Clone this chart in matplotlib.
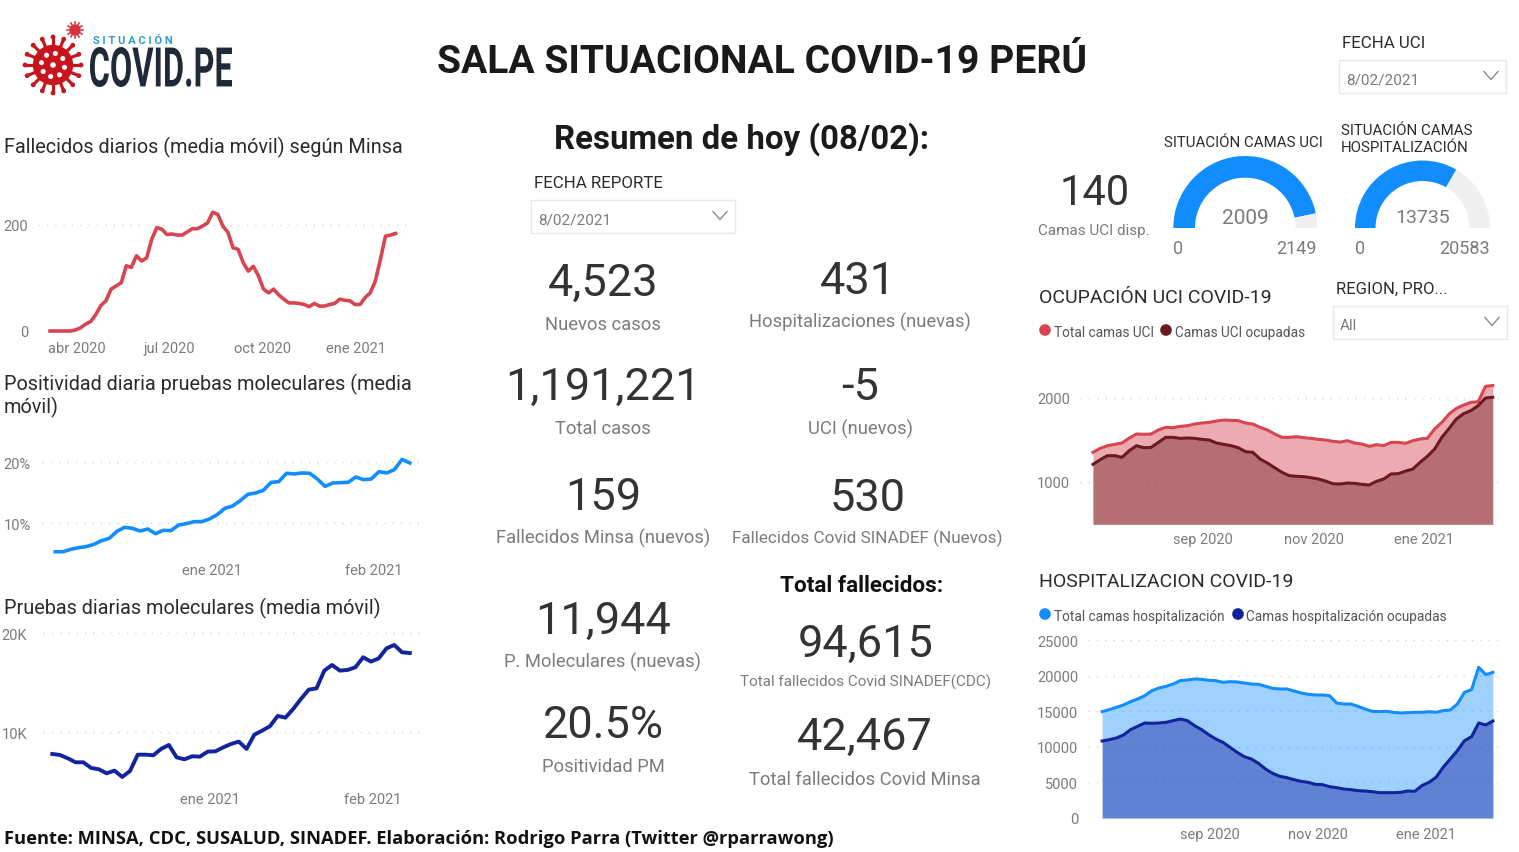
import numpy as np
import pandas as pd
import matplotlib
matplotlib.use("Agg")
import matplotlib.pyplot as plt
import matplotlib.dates as mdates
from matplotlib.patches import Circle, PathPatch, Rectangle
from matplotlib.textpath import TextPath
from matplotlib.font_manager import FontProperties
from matplotlib.transforms import Affine2D

W, H = 1519, 853
FONT = "Roboto"
plt.rcParams["font.family"] = [FONT, "DejaVu Sans"]

RED = "#D64550"
BLUE = "#118DFF"
NAVY = "#12239E"
MAROON = "#6B1A22"
GREY = "#7B7B7B"
DARK = "#2B2B2B"

# data
fallecidos = [0, 0, 0, 0, 0, 2, 6, 13, 18, 31, 48, 57, 79, 85, 91, 123, 120, 142, 132, 138,
              173, 195, 192, 182, 183, 181, 181, 187, 193, 193, 198, 204, 224, 220, 198, 186,
              157, 154, 129, 113, 122, 104, 79, 72, 79, 68, 60, 53, 53, 52, 50, 46, 52, 47,
              47, 50, 52, 60, 58, 57, 50, 50, 63, 72, 94, 135, 179, 181, 184]
positividad = [5.27, 5.27, 5.66, 5.93, 6.1, 6.48, 7.09, 7.47, 8.63, 9.29, 9.12, 8.68, 9.01,
               8.24, 8.79, 8.74, 9.67, 9.89, 10.22, 10.22, 10.66, 11.37, 12.42, 12.8, 13.68,
               14.73, 14.95, 15.38, 16.7, 16.81, 18.19, 18.08, 18.24, 18.19, 17.25, 16.04,
               16.59, 16.65, 16.7, 17.58, 17.14, 17.25, 18.46, 18.24, 18.79, 20.49, 19.89]
pruebas = [7810, 7710, 7370, 6970, 6970, 6400, 6260, 5860, 6130, 5490, 6090, 7740, 7740,
           7680, 8320, 8720, 7470, 7270, 7580, 7540, 8050, 8080, 8480, 8820, 9060, 8320,
           9760, 10170, 10610, 11650, 11480, 12360, 13370, 14310, 14440, 16230, 16800,
           16230, 16300, 16570, 17580, 17140, 17470, 18480, 18820, 18080, 18010]
uci_total = [1351, 1398, 1430, 1446, 1462, 1522, 1570, 1566, 1570, 1618, 1649, 1645, 1661,
             1669, 1689, 1701, 1709, 1725, 1737, 1733, 1729, 1701, 1689, 1649, 1618, 1570,
             1530, 1530, 1538, 1526, 1518, 1506, 1498, 1482, 1474, 1490, 1462, 1450, 1422,
             1442, 1430, 1470, 1470, 1458, 1490, 1510, 1518, 1629, 1709, 1809, 1876, 1916,
             1948, 1956, 2139, 2149]
uci_ocupadas = [1207, 1263, 1311, 1311, 1291, 1371, 1430, 1406, 1410, 1470, 1530, 1530, 1518,
                1522, 1518, 1506, 1498, 1462, 1446, 1430, 1406, 1359, 1351, 1271, 1223, 1167,
                1112, 1072, 1064, 1060, 1048, 1032, 1008, 976, 972, 984, 980, 968, 960, 1004,
                1032, 1092, 1096, 1127, 1151, 1231, 1303, 1390, 1530, 1637, 1749, 1813, 1849,
                1908, 2000, 2009]
hosp_total = [14961, 15243, 15571, 15899, 16368, 16743, 17212, 17916, 18291, 18526, 18854,
              19323, 19417, 19557, 19510, 19370, 19323, 19088, 19182, 19135, 18995, 18854,
              18807, 18526, 18244, 18150, 18150, 17869, 17588, 17400, 17306, 17306, 17212,
              16180, 16040, 16040, 15712, 15336, 15008, 14961, 15008, 14867, 14774, 14820,
              14867, 14867, 14961, 14867, 15102, 15196, 16040, 17681, 18057, 21199, 20167,
              20495]
hosp_ocupadas = [10834, 11022, 11256, 11678, 12429, 12898, 13367, 13320, 13367, 13460, 13695,
                 13929, 13695, 12991, 12429, 11725, 11115, 10646, 9943, 9239, 8630, 8301, 7692,
                 6894, 6285, 5863, 5675, 5394, 5159, 5018, 4737, 4690, 4409, 4268, 4080, 3987,
                 3846, 3799, 3705, 3564, 3564, 3564, 3611, 3799, 3752, 4549, 5018, 5722, 7129,
                 8301, 9474, 10881, 11444, 13367, 13085, 13648]

gauge_uci = (2009, 2149)
gauge_hosp = (13735, 20583)

dates_fallecidos = pd.date_range("2020-03-06", periods=len(fallecidos), freq="5D")
dates_recent = pd.date_range("2020-12-02", "2021-02-08", periods=len(positividad))
dates_camas = pd.date_range("2020-07-02", "2021-02-08", periods=len(uci_total))

month_ticks_long = ["2020-04-01", "2020-07-01", "2020-10-01", "2021-01-01"]
month_labels_long = ["abr 2020", "jul 2020", "oct 2020", "ene 2021"]
month_ticks_short = ["2021-01-01", "2021-02-01"]
month_labels_short = ["ene 2021", "feb 2021"]
month_ticks_camas = ["2020-09-01", "2020-11-01", "2021-01-01"]
month_labels_camas = ["sep 2020", "nov 2020", "ene 2021"]

kpi_date = "8/02/2021"
kpi_values = ["4,523", "431", "1,191,221", "-5", "159", "530", "11,944", "20.5%", "42,467"]
kpi_labels = ["Nuevos casos", "Hospitalizaciones (nuevas)", "Total casos", "UCI (nuevos)",
              "Fallecidos Minsa (nuevos)", "Fallecidos Covid SINADEF (Nuevos)",
              "P. Moleculares (nuevas)", "Positividad PM", "Total fallecidos Covid Minsa"]


def px_axes(fig, left, right, top, bottom):
    return fig.add_axes([left / W, 1 - bottom / H, (right - left) / W, (bottom - top) / H])


def chart(fig, box, x_ref, y_ref, ticks, tick_labels, yticks, ylabels, ypad=7, xpad=7):
    # box is left, right, top, bottom in pixels, the refs tie values to pixels
    left, right, top, bottom = box
    ax = px_axes(fig, left, right, top, bottom)
    ax.patch.set_alpha(0)
    (d0, p0), (d1, p1) = x_ref
    n0, n1 = mdates.date2num(pd.Timestamp(d0)), mdates.date2num(pd.Timestamp(d1))
    per_px = (n1 - n0) / (p1 - p0)
    ax.set_xlim(n0 + (left - p0) * per_px, n0 + (right - p0) * per_px)
    (v0, q0), (v1, q1) = y_ref
    per_py = (v1 - v0) / (q1 - q0)
    ax.set_ylim(v0 + (bottom - q0) * per_py, v0 + (top - q0) * per_py)
    ax.set_xticks([mdates.date2num(pd.Timestamp(t)) for t in ticks])
    ax.set_xticklabels(tick_labels)
    ax.set_yticks(yticks)
    ax.set_yticklabels(ylabels)
    ax.tick_params(length=0, labelsize=10.5, labelcolor=GREY)
    ax.tick_params(axis="y", pad=ypad)
    ax.tick_params(axis="x", pad=xpad)
    ax.grid(axis="y", color="#D5D5D5", linewidth=1, linestyle=(0, (1, 5)))
    ax.set_axisbelow(True)
    for spine in ax.spines.values():
        spine.set_visible(False)
    return ax


def gauge(fig, cx, cy, radius, inner, value, maximum):
    ax = px_axes(fig, cx - radius, cx + radius, cy - radius, cy + radius)
    ax.pie([value, maximum - value, maximum], startangle=180, counterclock=False,
           colors=[BLUE, "#F0F0F0", "none"], radius=1,
           wedgeprops={"width": 1 - inner / radius, "linewidth": 0})
    ax.set_xlim(-1, 1)
    ax.set_ylim(-1, 1)


def stretched_text(ax, text, x0, x1, y_top, y_bot, color, weight="bold"):
    path = TextPath((0, 0), text, size=10, prop=FontProperties(family=FONT, weight=weight))
    ext = path.get_extents()
    tr = (Affine2D().translate(-ext.x0, -ext.y0)
          .scale((x1 - x0) / ext.width, -(y_bot - y_top) / ext.height)
          .translate(x0, y_bot))
    ax.add_patch(PathPatch(path, transform=tr + ax.transData, facecolor=color, lw=0))


def virus(ax, cx, cy, r, color, spikes, blob_dots):
    ax.add_patch(Circle((cx, cy), r * 0.72, color=color, lw=0))
    angles = np.linspace(0, 2 * np.pi, spikes, endpoint=False)
    for a in angles:
        ax.plot([cx + r * 0.7 * np.cos(a), cx + r * np.cos(a)],
                [cy + r * 0.7 * np.sin(a), cy + r * np.sin(a)],
                color=color, lw=r * 0.06 + 0.6, solid_capstyle="round")
        ax.add_patch(Circle((cx + r * np.cos(a), cy + r * np.sin(a)), r * 0.085, color=color, lw=0))
    if blob_dots:
        for a in angles[::2]:
            ax.add_patch(Circle((cx + r * 0.42 * np.cos(a + 0.2), cy + r * 0.42 * np.sin(a + 0.2)),
                                r * 0.09, color="white", lw=0))
        ax.add_patch(Circle((cx, cy), r * 0.1, color="white", lw=0))


def slicer(ax, x0, y0, x1, y1, text):
    ax.add_patch(Rectangle((x0, y0), x1 - x0, y1 - y0, facecolor="white",
                           edgecolor="#E8E8E8", lw=1))
    ax.text(x0 + 7, (y0 + y1) / 2 + 2.5, text, fontsize=11, color=GREY, va="center")
    cy = (y0 + y1) / 2 - 1
    ax.plot([x1 - 22, x1 - 15, x1 - 8], [cy - 4, cy + 4, cy - 4], color="#8A8A8A", lw=1)


def label(ax, x, y, text, size=10.5, color=DARK, ha="left", weight="normal", family=None):
    # va=center sits high here, more so for the big text
    ax.text(x, y + 0.7 + size * 0.09, text, fontsize=size, color=color, ha=ha, va="center",
            fontweight=weight, family=family or [FONT, "DejaVu Sans"])


def main():
    fig = plt.figure(figsize=(W / 100, H / 100), dpi=100, facecolor="white")

    ax = chart(fig, (38, 407, 200, 332), (("2020-04-01", 76.5), ("2021-01-01", 356)),
               ((0, 332), (200, 226)), month_ticks_long, month_labels_long,
               [0, 200], ["0", "200"])
    ax.plot(dates_fallecidos, fallecidos, color=RED, lw=2.6, clip_on=False)

    ax = chart(fig, (42, 420, 445, 554), (("2021-01-01", 211.7), ("2021-02-01", 373.3)),
               ((10, 524), (20, 463.3)), month_ticks_short, month_labels_short,
               [10, 20], ["10%", "20%"], ypad=8)
    ax.plot(dates_recent, positividad, color=BLUE, lw=2.6, clip_on=False)

    ax = chart(fig, (43, 420, 625, 783), (("2021-01-01", 210), ("2021-02-01", 373)),
               ((10000, 733.3), (20000, 634.3)), month_ticks_short, month_labels_short,
               [10000, 20000], ["10K", "20K"], ypad=11.5)
    ax.plot(dates_recent, pruebas, color=NAVY, lw=2.8, clip_on=False)

    ax = chart(fig, (1080, 1500, 380, 525.3), (("2020-09-01", 1203.3), ("2021-01-01", 1424)),
               ((1000, 482.7), (2000, 399)), month_ticks_camas, month_labels_camas,
               [1000, 2000], ["1000", "2000"], xpad=5.5)
    ax.fill_between(dates_camas, uci_total, ax.get_ylim()[0], color=RED, alpha=0.45, lw=0)
    ax.fill_between(dates_camas, uci_ocupadas, ax.get_ylim()[0], color=MAROON, alpha=0.42, lw=0)
    ax.plot(dates_camas, uci_total, color=RED, lw=2.2, clip_on=False)
    ax.plot(dates_camas, uci_ocupadas, color=MAROON, lw=2.2, clip_on=False)

    ax = chart(fig, (1088, 1502, 630, 819), (("2020-09-01", 1210), ("2021-01-01", 1425.7)),
               ((0, 819), (25000, 641.3)), month_ticks_camas, month_labels_camas,
               [0, 5000, 10000, 15000, 20000, 25000],
               ["0", "5000", "10000", "15000", "20000", "25000"], xpad=6.5)
    ax.fill_between(dates_camas, hosp_total, 0, color=BLUE, alpha=0.4, lw=0)
    ax.fill_between(dates_camas, hosp_ocupadas, 0, color=NAVY, alpha=0.45, lw=0)
    ax.plot(dates_camas, hosp_total, color=BLUE, lw=2.2, clip_on=False)
    ax.plot(dates_camas, hosp_ocupadas, color=NAVY, lw=2.2, clip_on=False)

    gauge(fig, 1245.3, 229, 72, 50.3, *gauge_uci)
    gauge(fig, 1422.5, 229, 67.5, 47, *gauge_hosp)

    # everything else sits on one overlay measured in pixels
    top = fig.add_axes([0, 0, 1, 1], facecolor="none")
    top.set_xlim(0, W)
    top.set_ylim(H, 0)
    top.axis("off")

    virus(top, 53, 66, 28, "#C8141C", 16, True)
    virus(top, 75, 31, 8, "#D6323A", 12, False)
    top.text(93, 40.5, "S I T U A C I Ó N", fontsize=8, color="#2E9BCB", va="center",
             fontweight="bold")
    stretched_text(top, "COVID.PE", 90, 232, 48, 88, "#1E2A38")

    label(top, 762, 59, "SALA SITUACIONAL COVID-19 PERÚ", 28.1, "#1A1A1A", "center", "bold")
    label(top, 741, 136, "Resumen de hoy (08/02):", 23.8, "#1A1A1A", "center", "bold")
    label(top, 862, 584, "Total fallecidos:", 16.2, "#111111", "center", "bold")
    label(top, 4, 837, "Fuente: MINSA, CDC, SUSALUD, SINADEF. Elaboración: Rodrigo Parra (Twitter @rparrawong)",
          13.2, "#111111", "left", "bold", "Open Sans")

    label(top, 4, 145, "Fallecidos diarios (media móvil) según Minsa", 14.3)
    label(top, 4, 382, "Positividad diaria pruebas moleculares (media", 14.3)
    label(top, 4, 405, "móvil)", 14.3)
    label(top, 4, 606, "Pruebas diarias moleculares (media móvil)", 14.3)

    label(top, 534, 182, "FECHA REPORTE", 12.2)
    slicer(top, 531, 201, 735, 234, kpi_date)
    label(top, 1342, 42, "FECHA UCI", 12.2)
    slicer(top, 1339, 61, 1506, 94, kpi_date)
    label(top, 1336, 288, "REGION, PRO...", 12)
    slicer(top, 1333, 307, 1507, 340, "All")

    number_xy = [(603, 280), (858, 278), (603, 384), (860, 384), (603, 494), (868, 495),
                 (603, 618), (603, 722), (865, 734)]
    label_xy = [(603, 323), (860, 321), (603, 427), (860, 428), (603, 537), (867, 537),
                (603, 661), (603, 765), (865, 778)]
    for i, value in enumerate(kpi_values):
        label(top, *number_xy[i], value, 32.5, "#333333", "center")
        size = 12.3 if "SINADEF" in kpi_labels[i] else 13.2
        label(top, *label_xy[i], kpi_labels[i], size, GREY, "center")
    label(top, 866, 641, "94,615", 32.5, "#333333", "center")
    label(top, 866, 681, "Total fallecidos Covid SINADEF(CDC)", 11, GREY, "center")

    label(top, 1095, 190, "140", 30, "#333333", "center")
    label(top, 1094, 229, "Camas UCI disp.", 11, GREY, "center")
    label(top, 1243, 141, "SITUACIÓN CAMAS UCI", 10.8, DARK, "center")
    label(top, 1341, 129, "SITUACIÓN CAMAS", 10.8)
    label(top, 1341, 146, "HOSPITALIZACIÓN", 10.8)
    label(top, 1245, 216, str(gauge_uci[0]), 15, GREY, "center")
    label(top, 1423, 216, str(gauge_hosp[0]), 14, GREY, "center")
    label(top, 1178, 247, "0", 13, GREY, "center")
    label(top, 1317, 247, str(gauge_uci[1]), 13, GREY, "right")
    label(top, 1360, 247, "0", 13, GREY, "center")
    label(top, 1490, 247, str(gauge_hosp[1]), 13, GREY, "right")

    label(top, 1039, 296, "OCUPACIÓN UCI COVID-19", 14)
    label(top, 1039, 580, "HOSPITALIZACION COVID-19", 14)

    top.scatter([1045, 1166], [331, 331], s=70, color=[RED, MAROON], lw=0)
    label(top, 1054, 331, "Total camas UCI", 9.8, "#555555")
    label(top, 1175, 331, "Camas UCI ocupadas", 9.8, "#555555")
    top.scatter([1045, 1238], [615, 615], s=70, color=[BLUE, NAVY], lw=0)
    label(top, 1054, 615, "Total camas hospitalización", 9.8, "#555555")
    label(top, 1246, 615, "Camas hospitalización ocupadas", 9.8, "#555555")

    fig.savefig("out.png", dpi=100)


if __name__ == "__main__":
    main()
